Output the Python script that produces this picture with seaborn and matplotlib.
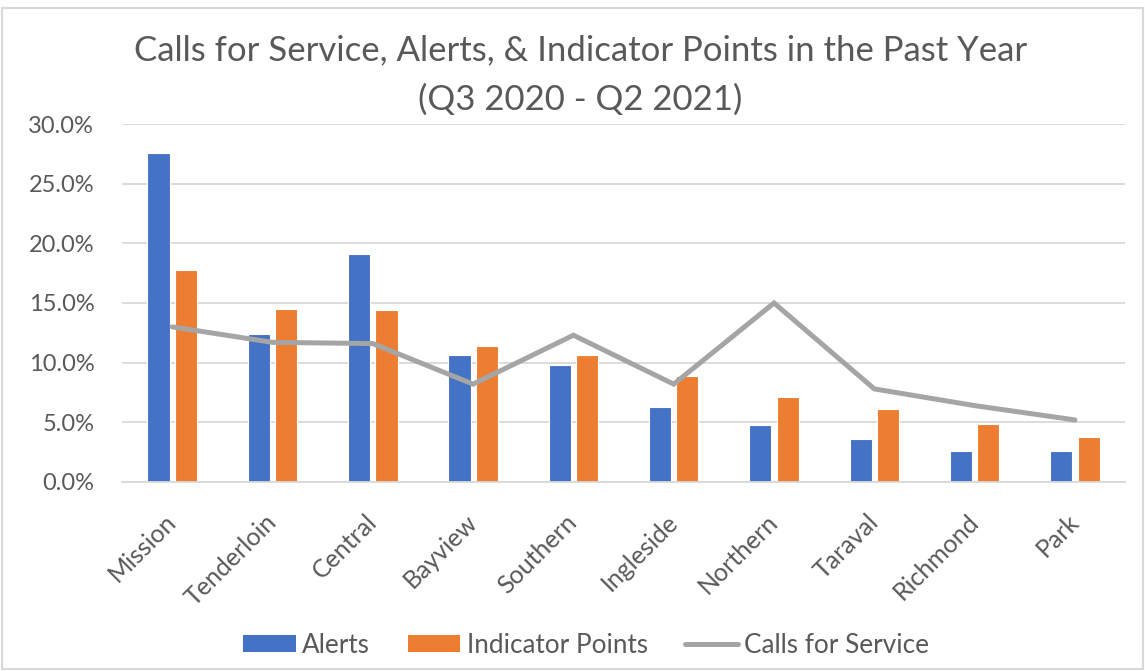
import matplotlib
matplotlib.use("Agg")
import matplotlib.pyplot as plt
import seaborn as sns
import pandas as pd
from matplotlib.patches import Patch, Rectangle
from matplotlib.lines import Line2D
from matplotlib.ticker import PercentFormatter, MultipleLocator

districts = ["Mission", "Tenderloin", "Central", "Bayview", "Southern",
             "Ingleside", "Northern", "Taraval", "Richmond", "Park"]
alerts = [0.276, 0.124, 0.191, 0.106, 0.098, 0.063, 0.048, 0.036, 0.026, 0.026]
indicator_points = [0.178, 0.145, 0.144, 0.114, 0.106, 0.089, 0.071, 0.061, 0.049, 0.038]
calls_for_service = [0.130, 0.117, 0.116, 0.082, 0.123, 0.082, 0.150, 0.078, 0.064, 0.052]
series_names = ["Alerts", "Indicator Points", "Calls for Service"]

BLUE, ORANGE, GRAY = "#4472C4", "#ED7D31", "#A5A5A5"
TEXT = "#595959"

sns.set_theme(style="white")
plt.rcParams["font.family"] = ["Lato", "DejaVu Sans"]

df = pd.DataFrame({
    "District": districts * 2,
    "Value": alerts + indicator_points,
    "Series": [series_names[0]] * len(districts) + [series_names[1]] * len(districts),
})

fig = plt.figure(figsize=(11.45, 6.71), dpi=100)
ax = fig.add_axes([0.1066, 0.2817, 0.876, 0.5335])

sns.barplot(data=df, x="District", y="Value", hue="Series", order=districts,
            palette=[BLUE, ORANGE], saturation=1, width=0.545, gap=0.19, ax=ax,
            edgecolor="white", linewidth=0.8, legend=False)
sns.pointplot(x=districts, y=calls_for_service, order=districts, color=GRAY,
              markers="", linestyles="-", ax=ax, linewidth=3.6, errorbar=None)
for ln in ax.lines:
    ln.set_solid_capstyle("round")
    ln.set_solid_joinstyle("miter")
    ln.set_zorder(4)

ax.set_xlim(-0.5, len(districts) - 0.5)
ax.set_ylim(0, 0.30)
ax.yaxis.set_major_locator(MultipleLocator(0.05))
ax.yaxis.set_major_formatter(PercentFormatter(1.0, decimals=1))
ax.grid(axis="y", color="#D9D9D9", linewidth=1.3)
ax.set_axisbelow(True)
for s in ["top", "right", "left"]:
    ax.spines[s].set_visible(False)
ax.spines["bottom"].set_color("#D9D9D9")
ax.spines["bottom"].set_linewidth(1.3)
ax.tick_params(axis="both", length=0, colors=TEXT)
ax.tick_params(axis="y", pad=20, labelsize=17)
ax.tick_params(axis="x", pad=26, labelsize=18)
ax.set_xlabel("")
ax.set_ylabel("")
for lbl in ax.get_xticklabels():
    lbl.set_rotation(45)
    lbl.set_ha("right")
    lbl.set_va("center")
    lbl.set_rotation_mode("anchor")

fig.text(0.507, 0.925, "Calls for Service, Alerts, & Indicator Points in the Past Year",
         ha="center", va="center", fontsize=25, color=TEXT)
fig.text(0.507, 0.851, "(Q3 2020 - Q2 2021)", ha="center", va="center",
         fontsize=25, color=TEXT)

handles = [Patch(facecolor=BLUE, edgecolor="none"),
           Patch(facecolor=ORANGE, edgecolor="none"),
           Line2D([], [], color=GRAY, linewidth=3.6, solid_capstyle="round")]
fig.legend(handles, series_names, loc="center", bbox_to_anchor=(0.512, 0.038),
           ncol=3, frameon=False, fontsize=18.8, labelcolor=TEXT,
           handlelength=2.0, handleheight=0.62, handletextpad=0.25, columnspacing=1.45)

fig.patches.append(Rectangle((0.002, 0.003), 0.996, 0.985, transform=fig.transFigure,
                             fill=False, edgecolor="#D9D9D9", linewidth=1.5))

fig.savefig("out.png", dpi=100)
